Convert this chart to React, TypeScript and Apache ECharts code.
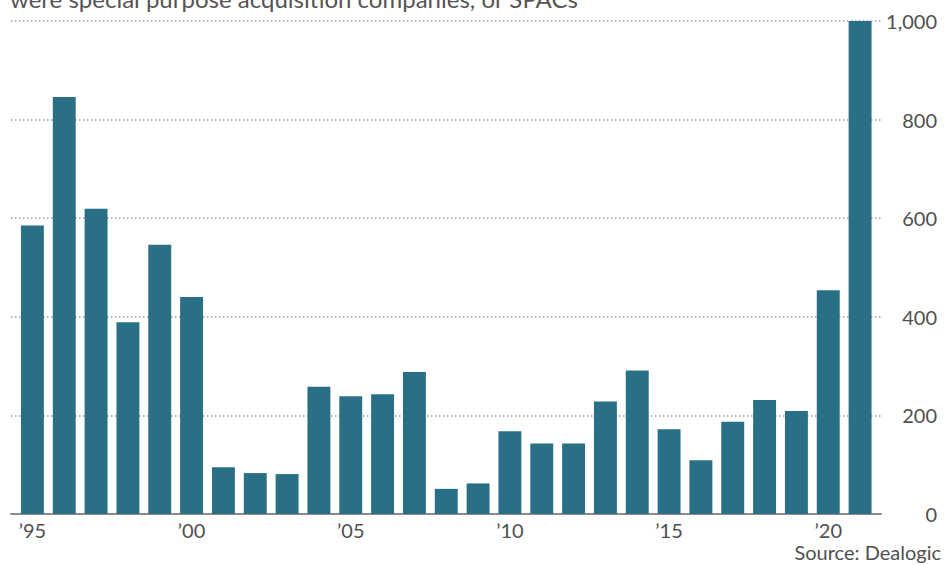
import React, { useEffect, useRef } from "react";
import * as echarts from "echarts";

// Annual number of U.S. IPOs, 1995–2021
const years: string[] = [
  "1995", "1996", "1997", "1998", "1999", "2000", "2001", "2002", "2003",
  "2004", "2005", "2006", "2007", "2008", "2009", "2010", "2011", "2012",
  "2013", "2014", "2015", "2016", "2017", "2018", "2019", "2020", "2021",
];
const ipoCounts: number[] = [
  585, 846, 619, 389, 546, 440, 95, 83, 81,
  258, 239, 243, 288, 51, 62, 168, 143, 143,
  228, 291, 172, 109, 187, 231, 209, 454, 1000,
];
const labeledYears: Record<string, string> = {
  "1995": "’95",
  "2000": "’00",
  "2005": "’05",
  "2010": "’10",
  "2015": "’15",
  "2020": "’20",
};
const yTicks = { min: 0, max: 1000, interval: 200 };

const subtitle = "were special purpose acquisition companies, or SPACs";
const source = "Source: Dealogic";

const FONT = "Lato, 'Noto Sans', sans-serif";
const BAR = "#296f86";
const TEXT = "#505050";

export default function App() {
  const ref = useRef<HTMLDivElement>(null);

  useEffect(() => {
    if (!ref.current) return;
    const chart = echarts.init(ref.current, undefined, { renderer: "svg" });
    chart.setOption({
      animation: false,
      backgroundColor: "#ffffff",
      textStyle: { fontFamily: FONT },
      grid: [
        // frame for the dotted gridlines, axis line and value labels
        { left: 11, right: 63, top: 21, bottom: 51 },
        // plotting area for the bars
        { left: 16.5, right: 68, top: 21, bottom: 51 },
      ],
      xAxis: [
        {
          gridIndex: 0,
          type: "value",
          min: 0,
          max: 1,
          axisLine: { show: true, lineStyle: { color: "#8c8c8c", width: 2 } },
          axisTick: { show: false },
          axisLabel: { show: false },
          splitLine: { show: false },
        },
        {
          gridIndex: 1,
          type: "category",
          data: years,
          axisLine: { show: false },
          axisTick: { show: false },
          axisLabel: {
            interval: 0,
            margin: 6,
            color: TEXT,
            fontSize: 20,
            fontFamily: FONT,
            formatter: (v: string) => labeledYears[v] ?? "",
          },
        },
      ],
      yAxis: [
        {
          gridIndex: 0,
          type: "value",
          position: "right",
          ...yTicks,
          axisLine: { show: false },
          axisTick: { show: false },
          axisLabel: {
            align: "right",
            margin: 56,
            color: TEXT,
            fontSize: 20,
            fontFamily: FONT,
            formatter: (v: number) => v.toLocaleString("en-US"),
          },
          splitLine: {
            show: true,
            lineStyle: { color: "#9a9a9a", width: 1.5, type: [1.5, 2.5] },
          },
        },
        {
          gridIndex: 1,
          type: "value",
          ...yTicks,
          show: false,
          splitLine: { show: false },
        },
      ],
      series: [
        {
          type: "bar",
          xAxisIndex: 1,
          yAxisIndex: 1,
          data: ipoCounts,
          barCategoryGap: "28%",
          itemStyle: { color: BAR },
          z: 3,
        },
      ],
      graphic: [
        {
          type: "text",
          x: 10,
          y: -2,
          style: {
            text: subtitle,
            fill: "#555555",
            fontSize: 24,
            fontFamily: FONT,
            align: "left",
            verticalAlign: "middle",
          },
        },
        {
          type: "text",
          x: 941,
          y: 552,
          style: {
            text: source,
            fill: TEXT,
            fontSize: 20,
            fontFamily: FONT,
            align: "right",
            verticalAlign: "middle",
          },
        },
      ],
    });
    return () => chart.dispose();
  }, []);

  return (
    <div
      ref={ref}
      style={{ position: "fixed", left: 0, top: 0, width: 944, height: 565 }}
    />
  );
}
